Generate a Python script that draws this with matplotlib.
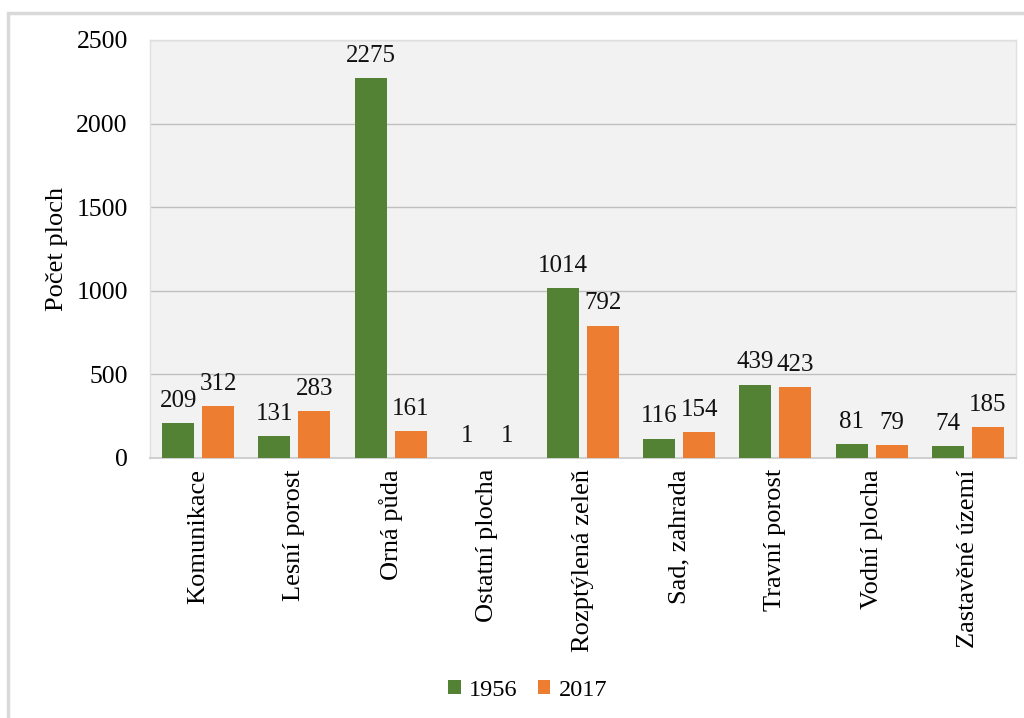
import matplotlib
matplotlib.use("Agg")
import matplotlib.pyplot as plt
from matplotlib.patches import Rectangle
import numpy as np

categories = ["Komunikace", "Lesní porost", "Orná půda", "Ostatní plocha",
              "Rozptýlená zeleň", "Sad, zahrada", "Travní porost",
              "Vodní plocha", "Zastavěné území"]
values_1956 = [209, 131, 2275, 1, 1014, 116, 439, 81, 74]
values_2017 = [312, 283, 161, 1, 792, 154, 423, 79, 185]
series_names = ["1956", "2017"]
y_ticks = [0, 500, 1000, 1500, 2000, 2500]

green = "#548235"
orange = "#ED7D31"

plt.rcParams["font.family"] = ["Liberation Serif", "DejaVu Serif"]

fig = plt.figure(figsize=(10.24, 7.18), dpi=100)
fig.patch.set_facecolor("white")

# outer frame of the chart
fig.add_artist(Rectangle((8 / 1024, -0.05), 1.1, 1 - 13 / 718 + 0.05,
                         transform=fig.transFigure, fill=False,
                         edgecolor="#d9d9d9", linewidth=2.5))

ax = fig.add_axes([150 / 1024, (718 - 458) / 718, 866 / 1024, 418 / 718])
ax.set_facecolor("#f2f2f2")

x = np.arange(len(categories))
bw = 0.333
off = 0.208
b1 = ax.bar(x - off, values_1956, bw, color=green, label=series_names[0], zorder=3)
b2 = ax.bar(x + off, values_2017, bw, color=orange, label=series_names[1], zorder=3)

for bars in (b1, b2):
    for rect in bars:
        h = rect.get_height()
        ax.annotate(f"{int(h)}", (rect.get_x() + rect.get_width() / 2, h),
                    xytext=(0, 8), textcoords="offset points",
                    ha="center", va="bottom", fontsize=18, color="#111111")

ax.set_xlim(-0.5, len(categories) - 0.5)
ax.set_ylim(0, 2500)
ax.set_yticks(y_ticks)
ax.set_yticklabels([str(t) for t in y_ticks], fontsize=18.5)
ax.set_xticks(x)
ax.set_xticklabels(categories, rotation=90, fontsize=19, va="top", ha="center")
ax.tick_params(axis="both", length=0)
ax.tick_params(axis="y", pad=16)
ax.tick_params(axis="x", pad=8)

ax.yaxis.grid(True, color="#bfbfbf", linewidth=1, zorder=0)
ax.set_axisbelow(True)
for side in ("top", "right", "left"):
    ax.spines[side].set_color("#e0e0e0")
    ax.spines[side].set_linewidth(1)
ax.spines["bottom"].set_color("#d0d0d0")
ax.spines["bottom"].set_linewidth(1.5)

ax.set_ylabel("Počet ploch", fontsize=19, labelpad=6)

fig.legend(handles=[b1, b2], labels=series_names, loc="center",
           bbox_to_anchor=(528 / 1024, 1 - 690 / 718), ncol=2, frameon=False,
           fontsize=17.5, handlelength=0.5, handleheight=0.5, handletextpad=0.35,
           columnspacing=0.85)

fig.savefig("out.png", dpi=100, facecolor="white")
